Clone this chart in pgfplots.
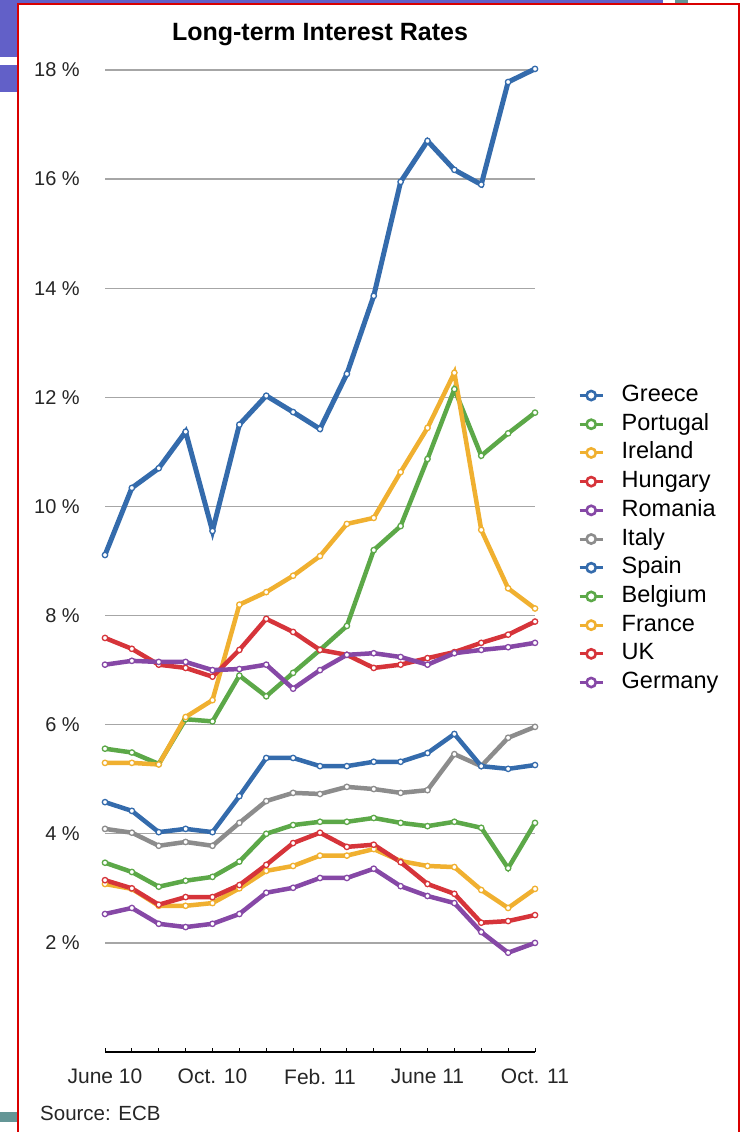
\documentclass[border=0pt]{standalone}
\usepackage{pgfplots}
\pgfplotsset{compat=1.18}
\usepackage{pgfplotstable}
\usepackage{fontspec}
\setmainfont{Liberation Sans}

\definecolor{cblue}{RGB}{52,107,172}
\definecolor{cgreen}{RGB}{92,168,72}
\definecolor{corange}{RGB}{240,176,48}
\definecolor{cred}{RGB}{214,52,58}
\definecolor{cpurple}{RGB}{134,72,166}
\definecolor{cgray}{RGB}{140,140,140}
\definecolor{slide}{RGB}{98,96,200}
\definecolor{teal}{RGB}{100,150,150}

% month index (0 = June 10) and long-term rates in %
\pgfplotstableread{
m  Gr    Pt    Ie    Hu   Ro   It   Es   Be   Fr   Uk   De
0  9.11  5.56  5.30  7.59 7.10 4.09 4.58 3.47 3.08 3.15 2.53
1  10.34 5.49  5.30  7.39 7.17 4.02 4.42 3.30 2.99 3.00 2.64
2  10.70 5.28  5.27  7.10 7.15 3.78 4.03 3.03 2.68 2.70 2.35
3  11.37 6.10  6.14  7.04 7.15 3.85 4.09 3.14 2.68 2.84 2.29
4  9.55  6.06  6.45  6.88 7.00 3.78 4.03 3.21 2.73 2.84 2.35
5  11.50 6.90  8.20  7.37 7.02 4.20 4.69 3.49 3.00 3.06 2.53
6  12.03 6.52  8.43  7.94 7.10 4.60 5.39 4.00 3.32 3.43 2.92
7  11.73 6.95  8.73  7.70 6.66 4.75 5.39 4.16 3.41 3.83 3.01
8  11.42 7.37  9.09  7.37 7.00 4.73 5.24 4.22 3.60 4.02 3.19
9  12.43 7.81  9.68  7.28 7.28 4.86 5.24 4.22 3.60 3.76 3.19
10 13.86 9.20  9.79  7.04 7.31 4.82 5.32 4.29 3.72 3.80 3.36
11 15.95 9.64  10.63 7.10 7.24 4.75 5.32 4.20 3.50 3.48 3.04
12 16.70 10.87 11.44 7.22 7.10 4.80 5.48 4.14 3.41 3.08 2.86
13 16.17 12.15 12.45 7.33 7.31 5.46 5.83 4.22 3.39 2.90 2.73
14 15.90 10.93 9.57  7.50 7.37 5.24 5.24 4.11 2.97 2.37 2.20
15 17.78 11.34 8.50  7.65 7.42 5.76 5.19 3.37 2.64 2.40 1.82
16 18.02 11.72 8.13  7.89 7.50 5.96 5.26 4.20 2.99 2.51 2.00
}\rates

\pgfplotsset{
  ser/.style={color=#1, line width=4.5pt, mark=*, mark size=2.7pt,
    mark options={fill=white, line width=1.3pt}},
}

\begin{document}
\begin{tikzpicture}
\path[use as bounding box] (0pt,0pt) rectangle (742pt,-1132pt);
% slide bits around the frame
\fill[slide] (0pt,0pt) rectangle (17pt,-57pt);
\fill[slide] (0pt,-65pt) rectangle (17pt,-92pt);
\fill[slide] (17pt,0pt) rectangle (663pt,-3pt);
\fill[teal] (675pt,0pt) rectangle (688pt,-3pt);
\fill[teal] (0pt,-1112pt) rectangle (17pt,-1122pt);
\draw[red!85!black, line width=2pt] (18pt,-1140pt) -- (18pt,-4pt) -- (739pt,-4pt) -- (739pt,-1140pt);

\node[font=\bfseries\fontsize{25}{30}\selectfont] at (320pt,-35pt) {Long-term Interest Rates};
\node[anchor=west, inner sep=0pt, text=black!85, font=\fontsize{20.5}{24}\selectfont] at (40pt,-1113pt) {Source: ECB};

\begin{axis}[
  at={(105pt,-1052pt)}, anchor=south west,
  scale only axis, width=430pt, height=982pt,
  xmin=0, xmax=16, ymin=0, ymax=18,
  axis lines*=left,
  y axis line style={draw=none},
  x axis line style={black, line width=1.5pt},
  xtick={0,...,16},
  xticklabels={June 10,,,,Oct. 10,,,,Feb. 11,,,,June 11,,,,Oct. 11},
  xtick align=inside,
  major tick length=4pt,
  xtick style={black, line width=1pt},
  ytick={2,4,...,18},
  yticklabels={2 \%,4 \%,6 \%,8 \%,10 \%,12 \%,14 \%,16 \%,18 \%},
  ytick style={draw=none},
  ymajorgrids=true,
  grid style={black!35, line width=1.3pt},
  yticklabel style={anchor=east, inner sep=0pt, xshift=-25pt, text=black!85,
    font=\fontsize{20}{24}\selectfont},
  xticklabel style={anchor=north, inner sep=0pt, yshift=-17pt, text=black!85,
    font=\fontsize{21}{24}\selectfont},
  clip=false,
  legend cell align=left,
  legend style={at={(1.093,0.685)}, anchor=north west, draw=none, fill=none,
    font=\fontsize{23.5}{26}\selectfont, row sep=0.7pt,
    nodes={inner sep=2pt, text depth=6pt, text height=18pt}},
  legend image code/.code={
    \draw[#1, mark=none, line width=3pt] (0pt,0pt) -- (23pt,0pt);
    \draw[#1, mark=none, line width=2.6pt, fill=white] (11.5pt,0pt) circle (4.6pt);
    \path[draw=none, fill=none] (0pt,-8pt) rectangle (40pt,8pt);},
]
\addplot[ser=cblue, line width=5pt] table[x=m, y=Gr] {\rates};
\addlegendentry{Greece}
\addplot[ser=cgreen] table[x=m, y=Pt] {\rates};
\addlegendentry{Portugal}
\addplot[ser=corange] table[x=m, y=Ie] {\rates};
\addlegendentry{Ireland}
\addplot[ser=cred] table[x=m, y=Hu] {\rates};
\addlegendentry{Hungary}
\addplot[ser=cpurple] table[x=m, y=Ro] {\rates};
\addlegendentry{Romania}
\addplot[ser=cgray] table[x=m, y=It] {\rates};
\addlegendentry{Italy}
\addplot[ser=cblue] table[x=m, y=Es] {\rates};
\addlegendentry{Spain}
\addplot[ser=cgreen] table[x=m, y=Be] {\rates};
\addlegendentry{Belgium}
\addplot[ser=corange] table[x=m, y=Fr] {\rates};
\addlegendentry{France}
\addplot[ser=cred] table[x=m, y=Uk] {\rates};
\addlegendentry{UK}
\addplot[ser=cpurple] table[x=m, y=De] {\rates};
\addlegendentry{Germany}
\end{axis}
\end{tikzpicture}
\end{document}
